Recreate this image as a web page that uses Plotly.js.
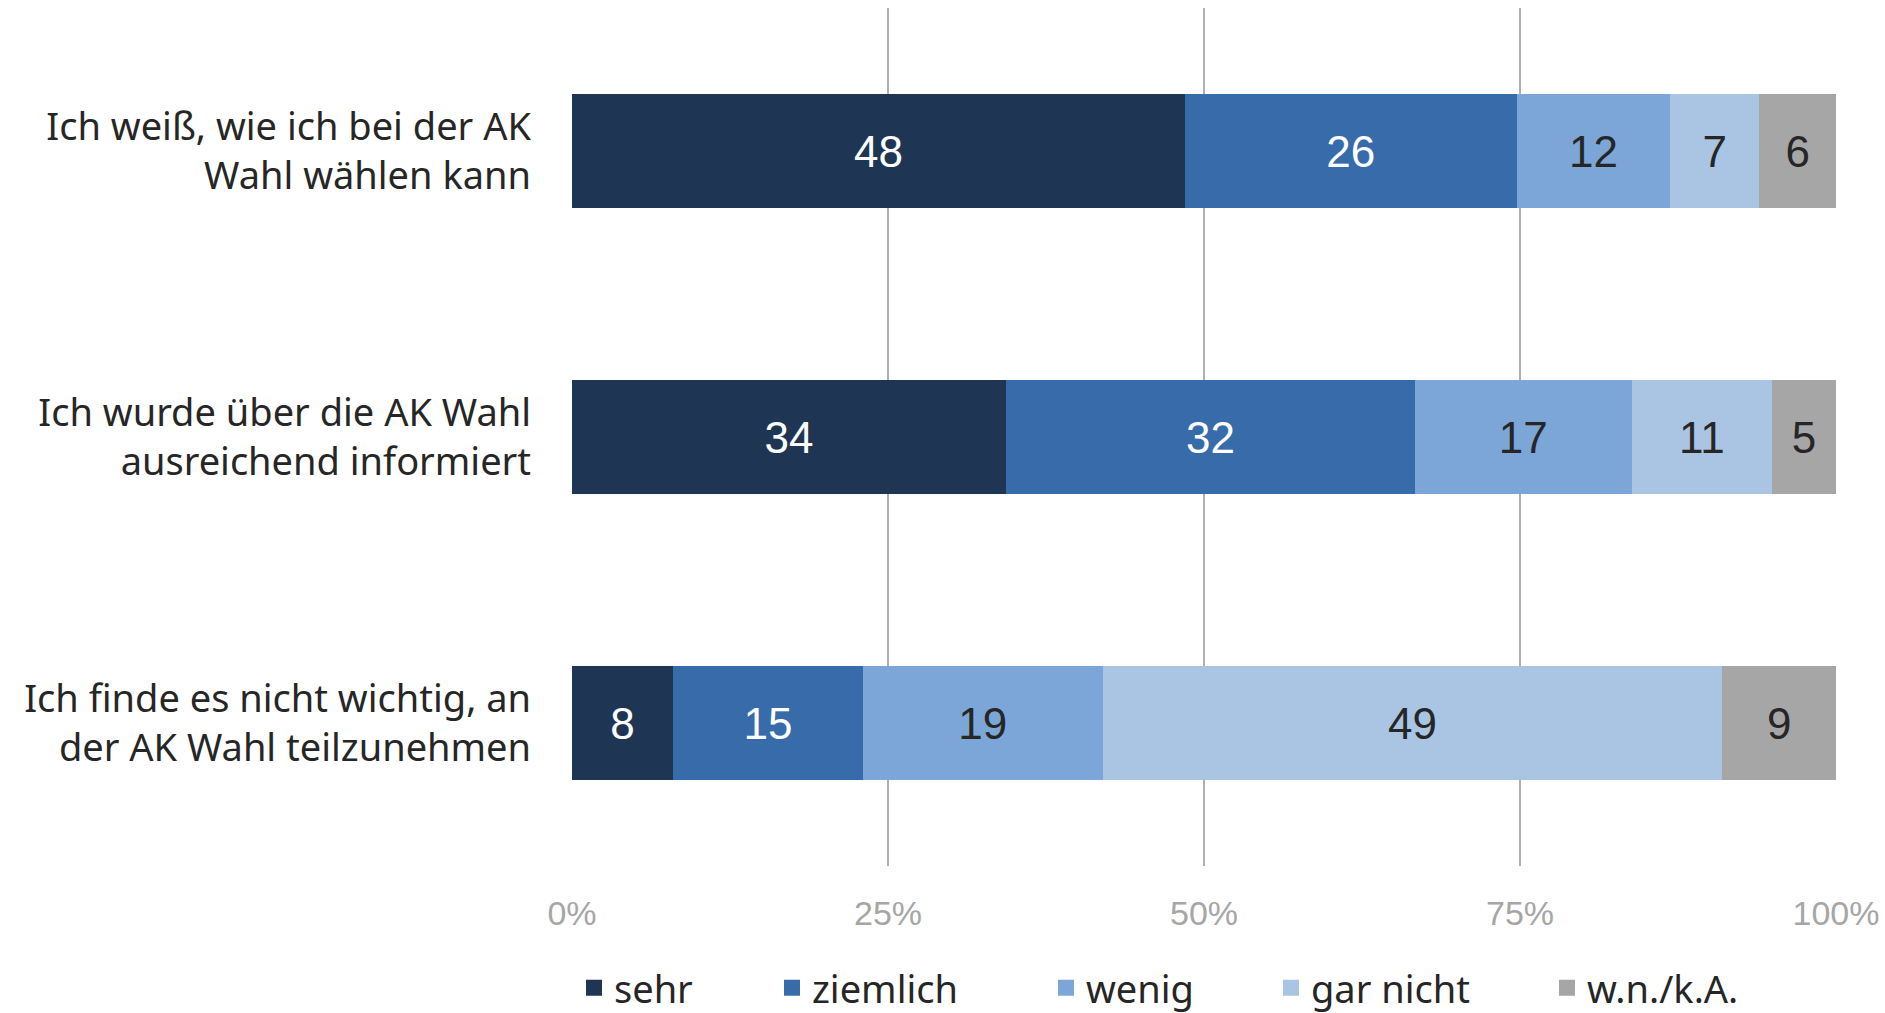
<!DOCTYPE html>
<html>
<head>
<meta charset="utf-8">
<script src="https://cdn.plot.ly/plotly-3.0.1.min.js"></script>
<style>html,body{margin:0;padding:0;background:#fff;}#chart{width:1885px;height:1013px;}</style>
</head>
<body>
<div id="chart"></div>
<script>
const categories = [
  "Ich weiß, wie ich bei der AK<br>Wahl wählen kann",
  "Ich wurde über die AK Wahl<br>ausreichend informiert",
  "Ich finde es nicht wichtig, an<br>der AK Wahl teilzunehmen"
];
const seriesNames = ["sehr", "ziemlich", "wenig", "gar nicht", "w.n./k.A."];
const sehr = [48, 34, 8];
const ziemlich = [26, 32, 15];
const wenig = [12, 17, 19];
const garNicht = [7, 11, 49];
const wnka = [6, 5, 9];
const tickVals = [0, 25, 50, 75, 100];
const tickLabels = ["0%", "25%", "50%", "75%", "100%"];

const seriesValues = [sehr, ziemlich, wenig, garNicht, wnka];
const colors = ["#1e3654", "#386baa", "#7ba6d7", "#a9c5e3", "#a6a6a6"];
const textColors = ["#ffffff", "#ffffff", "#262626", "#262626", "#262626"];
const legendNames = ["legend", "legend2", "legend3", "legend4", "legend5"];
const legendX = [574, 772, 1046, 1271, 1547];

const traces = [];
seriesValues.forEach((vals, i) => {
  traces.push({
    type: "bar",
    orientation: "h",
    name: seriesNames[i],
    x: vals,
    y: categories,
    text: vals.map(String),
    texttemplate: "%{text}",
    textposition: "inside",
    insidetextanchor: "middle",
    textangle: 0,
    constraintext: "none",
    textfont: {family: "Liberation Sans, Arial, sans-serif", size: 44, color: textColors[i]},
    marker: {color: colors[i], line: {width: 0}},
    showlegend: false,
    hoverinfo: "skip"
  });
});
seriesNames.forEach((nm, i) => {
  traces.push({
    type: "scatter",
    mode: "markers",
    name: nm,
    x: [null],
    y: [null],
    marker: {symbol: "square", size: 24, color: colors[i]},
    showlegend: true,
    legend: legendNames[i],
    hoverinfo: "skip"
  });
});

const layout = {
  width: 1885,
  height: 1013,
  margin: {l: 572, r: 49, t: 8, b: 147},
  paper_bgcolor: "#ffffff",
  plot_bgcolor: "#ffffff",
  barmode: "stack",
  barnorm: "percent",
  bargap: 0.6,
  font: {family: "Noto Sans, sans-serif", color: "#262626"},
  xaxis: {
    range: [0, 100],
    tickvals: tickVals,
    ticktext: tickLabels,
    showgrid: true,
    gridcolor: "#b0b0b0",
    gridwidth: 2,
    zeroline: false,
    showline: false,
    ticks: "",
    ticklabelstandoff: 24,
    tickfont: {family: "Liberation Sans, Arial, sans-serif", size: 34, color: "#a6a6a6"},
    fixedrange: true
  },
  yaxis: {
    type: "category",
    autorange: "reversed",
    showgrid: false,
    zeroline: false,
    showline: false,
    ticks: "",
    ticklabelstandoff: 40,
    tickfont: {family: "Noto Sans, sans-serif", size: 38, color: "#262626"},
    fixedrange: true
  }
};
legendNames.forEach((ln, i) => {
  layout[ln] = {
    xref: "container", yref: "container",
    x: legendX[i] / 1885, y: 1 - 988 / 1013,
    xanchor: "left", yanchor: "middle",
    orientation: "h",
    bgcolor: "rgba(0,0,0,0)",
    borderwidth: 0,
    itemsizing: "trace",
    font: {family: "Noto Sans, sans-serif", size: 38, color: "#262626"}
  };
});

Plotly.newPlot("chart", traces, layout, {displayModeBar: false, staticPlot: true});
</script>
</body>
</html>
